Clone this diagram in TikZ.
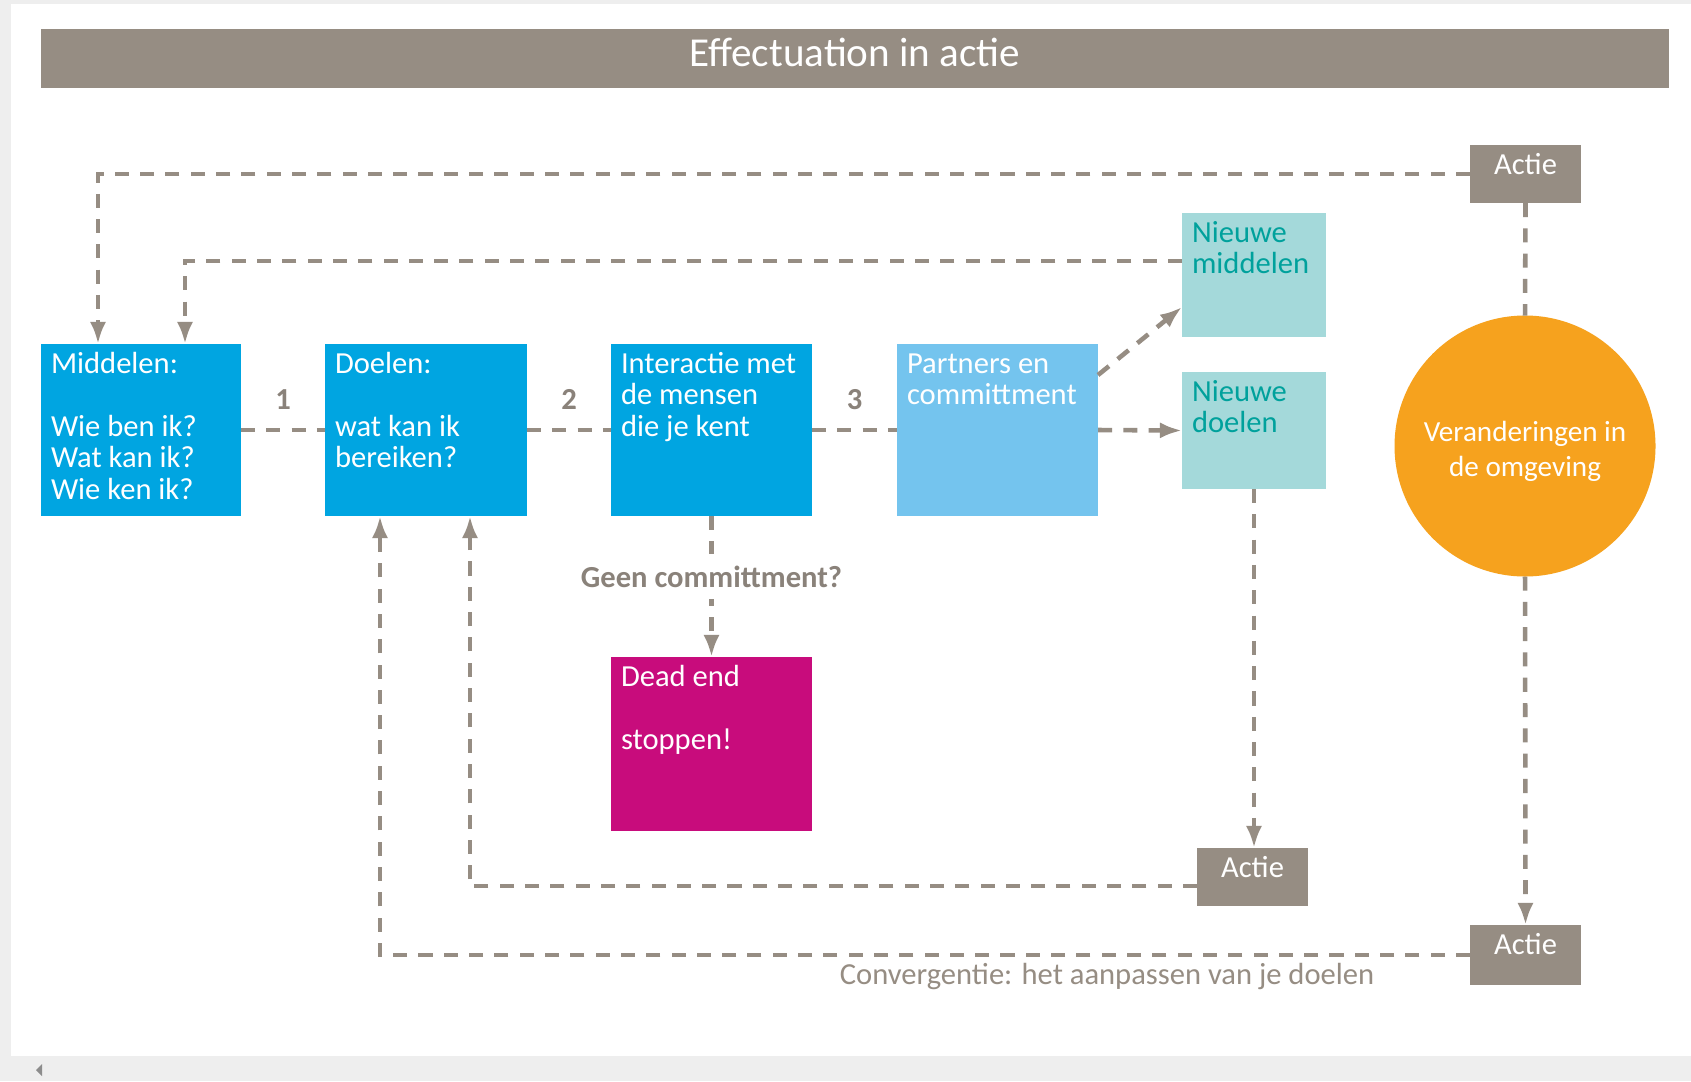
\documentclass[tikz,border=0pt]{standalone}
\usepackage{fontspec}
\setmainfont{Carlito}
\usetikzlibrary{arrows,arrows.meta}

\definecolor{taupe}{RGB}{150,141,131}
\definecolor{taupedonker}{RGB}{138,130,122}
\definecolor{blauw}{RGB}{0,165,225}
\definecolor{lichtblauw}{RGB}{116,196,238}
\definecolor{mint}{RGB}{164,217,218}
\definecolor{petrol}{RGB}{0,161,156}
\definecolor{oranje}{RGB}{246,162,30}
\definecolor{fuchsia}{RGB}{200,12,124}
\definecolor{scherm}{RGB}{238,238,238}

\newdimen\pxu \pxu=0.1mm
\newcommand\vaktekst[3]{\parbox[t][#2\pxu][t]{#1\pxu}{\raggedright\leftskip=10\pxu\rule{0pt}{29\pxu}#3}}
\newcommand\actietekst[2]{\parbox[t][#2\pxu][t]{#1\pxu}{\centering\rule{0pt}{29\pxu}Actie}}

\tikzset{
  vak/.style={anchor=north west,inner sep=0pt,outer sep=0pt,text=white,
    font=\fontsize{8.7}{9}\selectfont},
  balk/.style={anchor=north west,fill=taupe,inner sep=0pt,outer sep=0pt,
    minimum width=162.8mm,minimum height=5.9mm},
  stippel/.style={draw=taupe,line width=1.3pt,dash pattern=on 4pt off 3.2pt},
  pijl/.style={stippel,-{Latex[length=6.3pt,width=4.6pt]}},
  nummer/.style={inner sep=0pt,text=taupedonker,font=\fontsize{8.7}{9}\selectfont\bfseries},
  vraag/.style={fill=white,inner sep=3.4pt,text=taupedonker,font=\fontsize{8.7}{9}\selectfont\bfseries}
}

\begin{document}
\begin{tikzpicture}[x=0.1mm,y=-0.1mm]
   \useasboundingbox (0,0) rectangle (1691,1081);
   \fill [scherm] (0,0) rectangle (1691,1081);
   \fill [white] (11,4) rectangle (1691,1056);
   \fill [black!45] (36,1070) -- (42,1064) -- (42,1076) -- cycle;
   \node [balk] (balk) at (41,29) {};
   \node [text=white,font=\fontsize{11.7}{12}\selectfont] (titel) at (855,52) {Effectuation in actie};
   \node [vak,fill=blauw] (middelen) at (41,344) {\vaktekst{200}{172}{Middelen:\\[9pt]Wie ben ik?\\Wat kan ik?\\Wie ken ik?}};
   \node [vak,fill=blauw] (doelen) at (325,344) {\vaktekst{202}{172}{Doelen:\\[9pt]wat kan ik\\bereiken?}};
   \node [vak,fill=blauw] (interactie) at (611,344) {\vaktekst{201}{172}{Interactie met\\de mensen\\die je kent}};
   \node [vak,fill=lichtblauw] (partners) at (897,344) {\vaktekst{201}{172}{Partners en\\committment}};
   \node [vak,fill=mint,text=petrol] (nmiddelen) at (1182,213) {\vaktekst{144}{124}{Nieuwe\\middelen}};
   \node [vak,fill=mint,text=petrol] (ndoelen) at (1182,372) {\vaktekst{144}{117}{Nieuwe\\doelen}};
   \node [vak,fill=fuchsia] (deadend) at (611,657) {\vaktekst{201}{174}{Dead end\\[9pt]stoppen!}};
   \node [vak,fill=taupe] (actieboven) at (1470,145) {\actietekst{111}{58}};
   \node [vak,fill=taupe] (actiemidden) at (1197,848) {\actietekst{111}{58}};
   \node [vak,fill=taupe] (actieonder) at (1470,925) {\actietekst{111}{60}};
   \node [circle,fill=oranje,minimum size=26.1mm,inner sep=0pt,outer sep=0pt] (omgeving) at (1525,446) {};
   \node [text=white,align=center,font=\fontsize{8.3}{10}\selectfont] (omgevingtekst) at (1525,451) {Veranderingen in\\de omgeving};
   \draw [stippel] (middelen.east) -- node [nummer,above=1.8mm] (een) {1} (doelen.west);
   \draw [stippel] (doelen.east) -- node [nummer,above=1.8mm] (twee) {2} (interactie.west);
   \draw [stippel] (interactie.east) -- node [nummer,above=1.8mm] (drie) {3} (partners.west);
   \draw [pijl] (partners.east) -- (ndoelen.west);
   \draw [pijl] ([yshift=-3.1mm]partners.north east) -- ([yshift=3mm]nmiddelen.south west);
   \draw [pijl] (interactie.south) -- node [vraag,pos=.43] (geen) {Geen committment?} (deadend.north);
   \draw [pijl] (actieboven.west) -| ([xshift=5.7mm]middelen.north west);
   \draw [pijl] ([yshift=-4.8mm]nmiddelen.north west) -| ([xshift=14.4mm]middelen.north west);
   \draw [stippel] (actieboven.south) -- (omgeving.north);
   \draw [pijl] (omgeving.south) -- (actieonder.north);
   \draw [pijl] (ndoelen.south) -- (ndoelen.south |- actiemidden.north);
   \draw [pijl] ([yshift=-0.9mm]actiemidden.west) -| ([xshift=14.5mm]doelen.south west);
   \draw [pijl] (actieonder.west) -| ([xshift=5.5mm]doelen.south west);
   \node [text=taupe,font=\fontsize{8.7}{9}\selectfont] (convergentie) at (1107,976) {Convergentie: het aanpassen van je doelen};
\end{tikzpicture}
\end{document}
